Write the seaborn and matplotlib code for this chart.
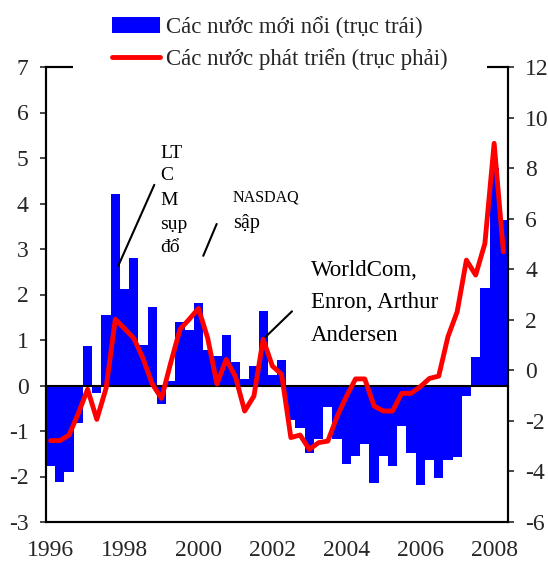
import numpy as np
import pandas as pd
import matplotlib
matplotlib.use("Agg")
import matplotlib.pyplot as plt
import seaborn as sns
from matplotlib.patches import Patch
from matplotlib.lines import Line2D

# ---------------- data ----------------
quarters = [f"{y}Q{q}" for y in range(1996, 2009) for q in range(1, 5)][:50]

emerging = [-1.78, -2.11, -1.91, -0.82, 0.86, -0.16, 1.55, 4.21, 2.12, 2.81,
            0.90, 1.73, -0.41, 0.10, 1.39, 1.22, 1.81, 0.78, 0.65, 1.10,
            0.51, 0.14, 0.42, 1.63, 0.23, 0.56, -0.76, -0.94, -1.49, -1.17,
            -0.47, -1.18, -1.72, -1.54, -1.29, -2.14, -1.54, -1.78, -0.89, -1.49,
            -2.18, -1.63, -2.04, -1.63, -1.58, -0.24, 0.62, 2.15, 4.78, 3.64]

developed = [-2.78, -2.78, -2.56, -1.70, -0.75, -1.94, -0.71, 2.02, 1.65, 1.27,
             0.47, -0.54, -1.11, 0.30, 1.62, 2.02, 2.45, 1.27, -0.54, 0.43,
             -0.25, -1.61, -1.02, 1.23, 0.17, -0.16, -2.66, -2.56, -3.13, -2.86,
             -2.80, -1.83, -1.04, -0.34, -0.34, -1.41, -1.61, -1.61, -0.91, -0.91,
             -0.65, -0.32, -0.23, 1.33, 2.32, 4.36, 3.77, 5.02, 8.98, 4.69]

year_labels = ["1996", "1998", "2000", "2002", "2004", "2006", "2008"]
label_quarters = ["1996Q1", "1998Q1", "2000Q1", "2002Q1", "2004Q1", "2006Q1", "2008Q1"]
year_start_quarters = ["1997Q1", "1998Q1", "1999Q1", "2000Q1", "2001Q1", "2002Q1",
                       "2003Q1", "2004Q1", "2005Q1", "2006Q1", "2007Q1", "2008Q1"]

legend_labels = ["Các nước mới nổi (trục trái)", "Các nước phát triển (trục phải)"]

left_ticks = list(range(-3, 8))
right_ticks = list(range(-6, 13, 2))

BLUE = "#0000FF"
RED = "#FF0000"

# ---------------- style ----------------
sns.set_style("white")
plt.rcParams["font.family"] = ["Liberation Serif", "DejaVu Serif"]
plt.rcParams["axes.linewidth"] = 1.5
plt.rcParams["axes.unicode_minus"] = False

df = pd.DataFrame({"pos": np.arange(len(quarters)), "quarter": quarters,
                   "emerging": emerging, "developed": developed})
qpos = {q: i for i, q in enumerate(quarters)}

fig = plt.figure(figsize=(5.48, 5.65), dpi=100)
ax = fig.add_axes([46 / 548, 1 - 522 / 565, 462 / 548, 455 / 565])

sns.barplot(data=df, x="pos", y="emerging", color=BLUE, saturation=1,
            width=1.0, linewidth=0, edgecolor="none", errorbar=None, ax=ax)

ax2 = ax.twinx()
sns.lineplot(data=df, x="pos", y="developed", color=RED, linewidth=3.5,
             ax=ax2, zorder=3)

ax.set_xlim(-0.5, len(quarters) - 0.5)
ax.set_ylim(-3, 7)
ax2.set_ylim(-6, 12)
ax.set_yticks(left_ticks)
ax2.set_yticks(right_ticks)
ax.set_xlabel("")
ax.set_ylabel("")
ax2.set_xlabel("")
ax2.set_ylabel("")

# zero line with year-boundary ticks
ax.spines["bottom"].set_position(("data", 0))
ax.set_xticks([qpos[q] - 0.5 for q in year_start_quarters])
ax.set_xticklabels([])
ax.tick_params(axis="x", direction="out", length=4.5, width=1.2, labelbottom=False)
ax.set_axisbelow(True)

# bottom labels
sec = ax.secondary_xaxis(0)
sec.set_xticks([qpos[q] for q in label_quarters], labels=year_labels)
sec.tick_params(length=0, pad=13, labelsize=17)
sec.spines["bottom"].set_linewidth(1.5)

ax.tick_params(axis="y", direction="out", length=4.5, width=1.2, pad=8, labelsize=17)
ax2.tick_params(axis="y", direction="out", length=4.5, width=1.2, pad=8, labelsize=17)
for a in (ax, ax2):
    for s in a.spines.values():
        s.set_linewidth(1.5)
        s.set_color("black")

# ---------------- annotations ----------------
def txt(x, y, s, size):
    ax.text(x, y, s, fontsize=size, ha="left", va="baseline", color="black")

for s, yb in zip(["LT", "C", "M", "sụp", "đổ"], [5.0, 4.51, 3.96, 3.44, 2.93]):
    txt(11.84, yb, s, 14)
ax.annotate("", xy=(7.32, 2.63), xytext=(11.22, 4.41),
            arrowprops=dict(arrowstyle="-", color="black", lw=1.5, shrinkA=0, shrinkB=0))

txt(19.74, 4.05, "NASDAQ", 11.5)
txt(19.74, 3.46, "sập", 14.5)
ax.annotate("", xy=(16.52, 2.85), xytext=(17.97, 3.55),
            arrowprops=dict(arrowstyle="-", color="black", lw=1.5, shrinkA=0, shrinkB=0))

for s, yb in zip(["WorldCom,", "Enron, Arthur", "Andersen"], [2.40, 1.70, 0.98]):
    txt(28.18, yb, s, 16.5)
ax.annotate("", xy=(23.02, 1.02), xytext=(26.12, 1.63),
            arrowprops=dict(arrowstyle="-", color="black", lw=1.5, shrinkA=0, shrinkB=0))

# ---------------- legend ----------------
handles = [Patch(facecolor=BLUE, edgecolor="none"),
           Line2D([], [], color=RED, lw=3.5)]
fig.legend(handles=handles, labels=legend_labels, loc="lower left",
           bbox_to_anchor=(73 / 548, 1 - 109 / 565), borderaxespad=0,
           frameon=True, facecolor="white", edgecolor="none", framealpha=1,
           fancybox=False, borderpad=1.7, handlelength=2.1, handletextpad=0.27,
           labelspacing=0.45, prop={"size": 16.5})

fig.savefig("out.png", dpi=100)
